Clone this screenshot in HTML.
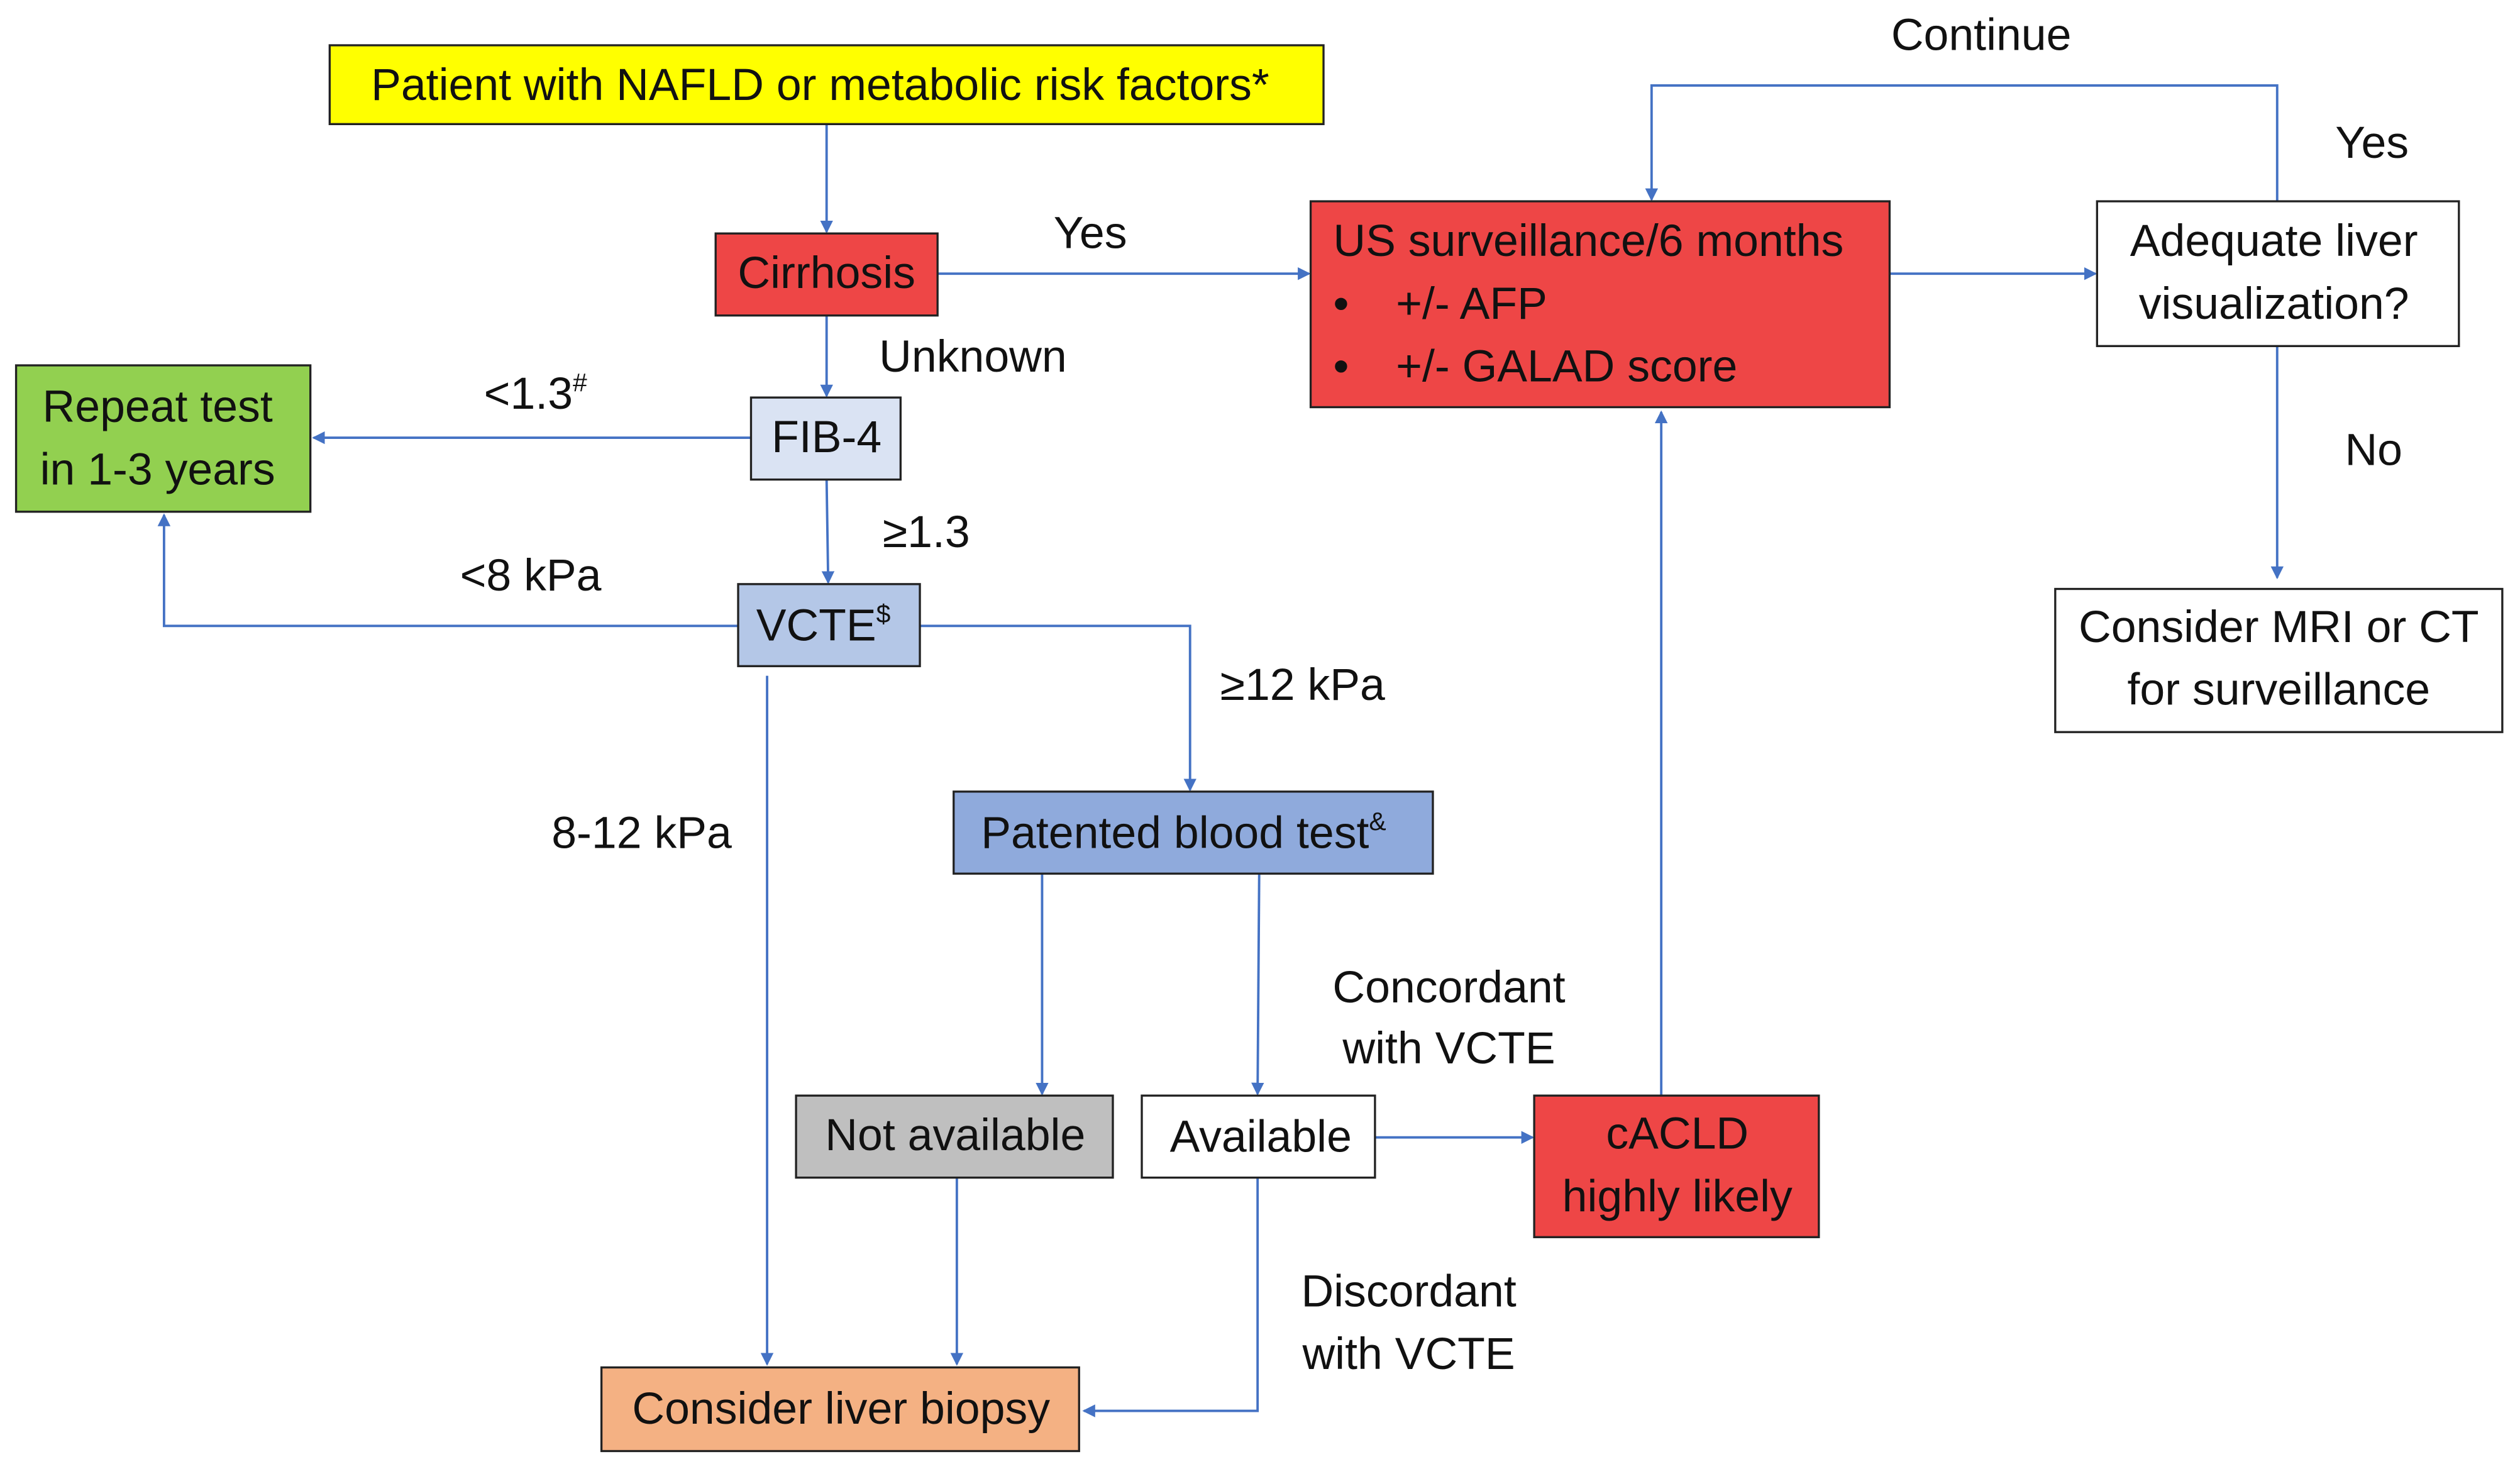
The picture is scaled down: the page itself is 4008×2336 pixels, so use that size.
<!DOCTYPE html>
<html><head><meta charset="utf-8"><style>
html,body{margin:0;padding:0;background:#fff;}
svg{display:block;}
text{font-family:"Liberation Sans",sans-serif;font-size:28px;fill:#111;}
</style></head><body>
<svg width="4008" height="2336" viewBox="0 0 1567 913" xmlns="http://www.w3.org/2000/svg">
<defs><marker id="a" markerWidth="8" markerHeight="8" refX="7" refY="4" orient="auto" markerUnits="userSpaceOnUse"><path d="M0,0 L8,4 L0,8 z" fill="#4472c4"/></marker></defs>
<g stroke="#4472c4" stroke-width="1.5" fill="none" marker-end="url(#a)">
<path d="M514,77 V144"/>
<path d="M583,170 H814"/>
<path d="M1175,170 H1303"/>
<path d="M1416,125 V53 H1027 V124"/>
<path d="M1416,215 V359"/>
<path d="M514,196 V246"/>
<path d="M467,272 H195"/>
<path d="M514,298 L515,362"/>
<path d="M459,389 H102 V320"/>
<path d="M572,389 H740 V491"/>
<path d="M477,420 V848"/>
<path d="M648,543 V680"/>
<path d="M783,543 L782,680"/>
<path d="M855,707 H953"/>
<path d="M1033,681 V256"/>
<path d="M595,732 V848"/>
<path d="M782,732 V877 H674"/>
</g>
<g stroke="#222" stroke-width="1.3">
<rect x="205" y="28" width="618" height="49" fill="#ffff00"/>
<rect x="445" y="145" width="138" height="51" fill="#ee4646"/>
<rect x="815" y="125" width="360" height="128" fill="#ee4646"/>
<rect x="1304" y="125" width="225" height="90" fill="#fff"/>
<rect x="1278" y="366" width="278" height="89" fill="#fff"/>
<rect x="467" y="247" width="93" height="51" fill="#dae3f3"/>
<rect x="10" y="227" width="183" height="91" fill="#92d050"/>
<rect x="459" y="363" width="113" height="51" fill="#b4c7e7"/>
<rect x="593" y="492" width="298" height="51" fill="#8faadc"/>
<rect x="495" y="681" width="197" height="51" fill="#bfbfbf"/>
<rect x="710" y="681" width="145" height="51" fill="#fff"/>
<rect x="954" y="681" width="177" height="88" fill="#ee4646"/>
<rect x="374" y="850" width="297" height="52" fill="#f4b183"/>
</g>
<g text-anchor="middle">
<text x="510" y="62">Patient with NAFLD or metabolic risk factors*</text>
<text x="514" y="179">Cirrhosis</text>
<text x="1414" y="159">Adequate liver</text>
<text x="1414" y="198">visualization?</text>
<text x="1417" y="399">Consider MRI or CT</text>
<text x="1417" y="438">for surveillance</text>
<text x="514" y="281">FIB-4</text>
<text x="98" y="262">Repeat test</text>
<text x="98" y="301">in 1-3 years</text>
<text x="512" y="398">VCTE<tspan font-size="16" dy="-11">$</tspan></text>
<text x="736" y="527">Patented blood test<tspan font-size="16" dy="-11">&amp;</tspan></text>
<text x="594" y="715">Not available</text>
<text x="784" y="716">Available</text>
<text x="1043" y="714">cACLD</text>
<text x="1043" y="753">highly likely</text>
<text x="523" y="885">Consider liver biopsy</text>
<text x="678" y="154">Yes</text>
<text x="1232" y="31">Continue</text>
<text x="1475" y="98">Yes</text>
<text x="1476" y="289">No</text>
<text x="605" y="231">Unknown</text>
<text x="333" y="254">&lt;1.3<tspan font-size="16" dy="-11">#</tspan></text>
<text x="576" y="340">≥1.3</text>
<text x="330" y="367">&lt;8 kPa</text>
<text x="810" y="435">≥12 kPa</text>
<text x="399" y="527">8-12 kPa</text>
<text x="901" y="623">Concordant</text>
<text x="901" y="661">with VCTE</text>
<text x="876" y="812">Discordant</text>
<text x="876" y="851">with VCTE</text>
</g>
<text x="829" y="159">US surveillance/6 months</text>
<text x="829" y="198">•</text><text x="868" y="198">+/- AFP</text>
<text x="829" y="237">•</text><text x="868" y="237">+/- GALAD score</text>
</svg>
</body></html>
